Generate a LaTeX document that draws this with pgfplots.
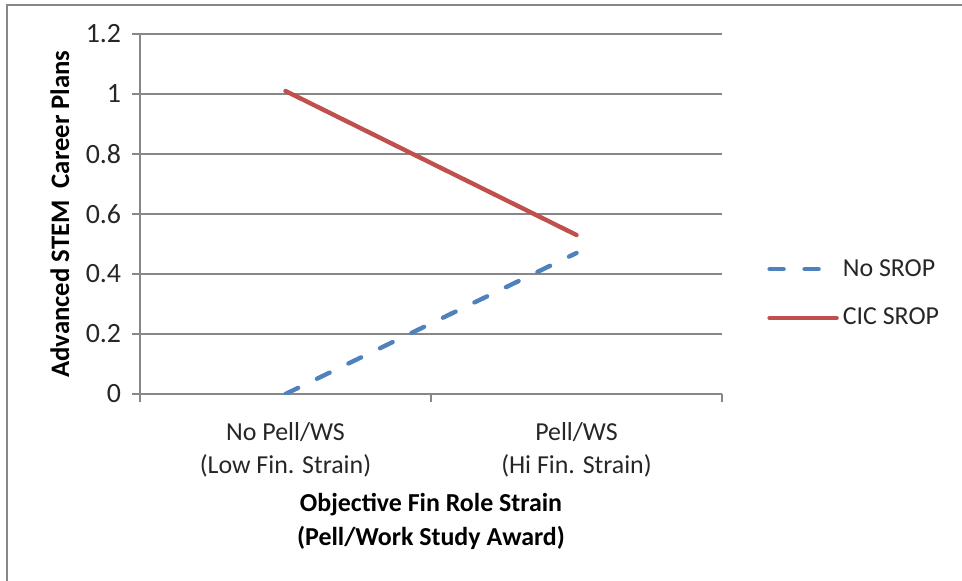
\documentclass[border=0pt]{standalone}
\usepackage{fontspec}
\setmainfont{Carlito}
\usepackage{pgfplots}
\pgfplotsset{compat=1.18}
\definecolor{srpblue}{HTML}{4F81BD}
\definecolor{srpred}{HTML}{C0504D}
\definecolor{gridgray}{HTML}{878787}

\begin{document}
\begin{tikzpicture}
\path[use as bounding box] (-70bp,-93.5bp) rectangle (411bp,197bp);
% outer chart frame
\draw[gridgray, line width=1bp] (-66.5bp,-95bp) -- (-66.5bp,194.5bp) -- (413bp,194.5bp);
\begin{axis}[
  scale only axis, width=291bp, height=180bp,
  xmin=0.5, xmax=2.5, ymin=0, ymax=1.2,
  axis lines*=left,
  axis line style={gridgray, line width=0.6bp},
  xtick={0.5,1.5,2.5}, xticklabels={},
  extra x ticks={1,2},
  extra x tick labels={{No Pell/WS\\(Low Fin. Strain)},{Pell/WS\\(Hi Fin. Strain)}},
  extra x tick style={major tick length=0pt},
  ytick={0,0.2,0.4,0.6,0.8,1,1.2},
  yticklabels={0,0.2,0.4,0.6,0.8,1,1.2},
  ymajorgrids, grid style={gridgray, line width=0.6bp},
  tick align=outside, major tick length=4bp,
  tick style={gridgray, line width=0.6bp},
  tick label style={font=\fontsize{13}{16.5}\selectfont, text=black!85},
  yticklabel style={font=\fontsize{14}{16.5}\selectfont, anchor=east, inner sep=0pt, xshift=-5.25bp},
  xticklabel style={align=center, anchor=center, inner sep=0pt, yshift=-27.75bp},
  ylabel={Advanced STEM\ \ Career Plans},
  ylabel style={font=\fontsize{13.4}{15}\selectfont\bfseries, at={(axis description cs:-0.1375,0.5)}, anchor=center},
  xlabel={Objective Fin Role Strain\\(Pell/Work Study Award)},
  xlabel style={font=\fontsize{13}{17}\selectfont\bfseries, align=center, at={(axis description cs:0.5,0)}, anchor=center, yshift=-63.5bp},
  legend cell align=left,
  legend image code/.code={\draw[#1] (1bp,0bp) -- (34.5bp,0bp);},
  legend style={draw=none, fill=none, at={(axis description cs:1.0773,0.279)}, anchor=west,
    inner sep=0pt, row sep=14.5bp, column sep=2bp,
    font=\fontsize{13}{15}\selectfont, nodes={inner sep=0pt, text=black!85}},
]
\addplot[srpblue, line width=2.2bp, line cap=round, dash pattern=on 7bp off 10.5bp]
  coordinates {(1,0) (2,0.47)};
\addlegendentry{No SROP}
\addplot[srpred, line width=2.2bp, line cap=round] coordinates {(1,1.01) (2,0.53)};
\addlegendentry{CIC SROP}
\end{axis}
\end{tikzpicture}
\end{document}
